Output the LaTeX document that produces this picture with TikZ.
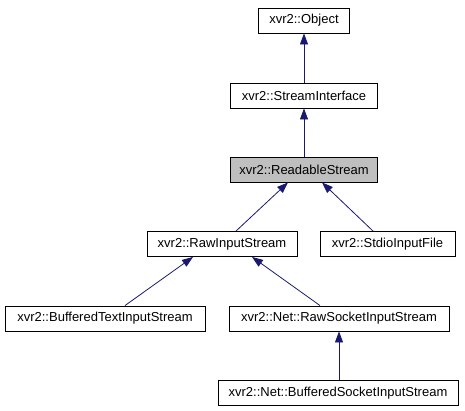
\documentclass[tikz,border=0pt]{standalone}
\usepackage{fontspec}
\setmainfont{Liberation Sans}
\usetikzlibrary{arrows.meta}
\definecolor{edgeblue}{HTML}{191970}
\definecolor{boxgray}{HTML}{BFBFBF}
\tikzset{
  cls/.style={draw=black, line width=0.9pt, rectangle, minimum height=25pt, inner sep=0pt, font=\fontsize{13}{15}\selectfont, text=black},
  inh/.style={draw=edgeblue, line width=0.8pt, -{Triangle[length=11pt,width=8pt]}}
}
\begin{document}
\begin{tikzpicture}[x=1pt,y=-1pt]
\useasboundingbox (0,0) rectangle (465,411);
\node[cls, minimum width=91pt] (object) at (304,20.5) {xvr2::Object};
\node[cls, minimum width=147pt] (iface) at (304,95.5) {xvr2::StreamInterface};
\node[cls, minimum width=147pt, fill=boxgray] (readable) at (304,169.5) {xvr2::ReadableStream};
\node[cls, minimum width=150pt] (rawin) at (222,244) {xvr2::RawInputStream};
\node[cls, minimum width=135pt] (stdio) at (387.5,244) {xvr2::StdioInputFile};
\node[cls, minimum width=200pt] (buftext) at (105,318.5) {xvr2::BufferedTextInputStream};
\node[cls, minimum width=220pt] (rawsock) at (339,318.5) {xvr2::Net::RawSocketInputStream};
\node[cls, minimum width=240pt] (bufsock) at (338,393) {xvr2::Net::BufferedSocketInputStream};
\draw[inh] (iface.north) -- (object.south);
\draw[inh] (readable.north) -- (iface.south);
\draw[inh] ([xshift=14pt]rawin.north) -- ([xshift=-16pt]readable.south);
\draw[inh] ([xshift=-14.5pt]stdio.north) -- ([xshift=18pt]readable.south);
\draw[inh] ([xshift=20pt]buftext.north) -- ([xshift=-29pt]rawin.south);
\draw[inh] ([xshift=-19pt]rawsock.north) -- ([xshift=30pt]rawin.south);
\draw[inh] ([xshift=1pt]bufsock.north) -- (rawsock.south);
\end{tikzpicture}
\end{document}
